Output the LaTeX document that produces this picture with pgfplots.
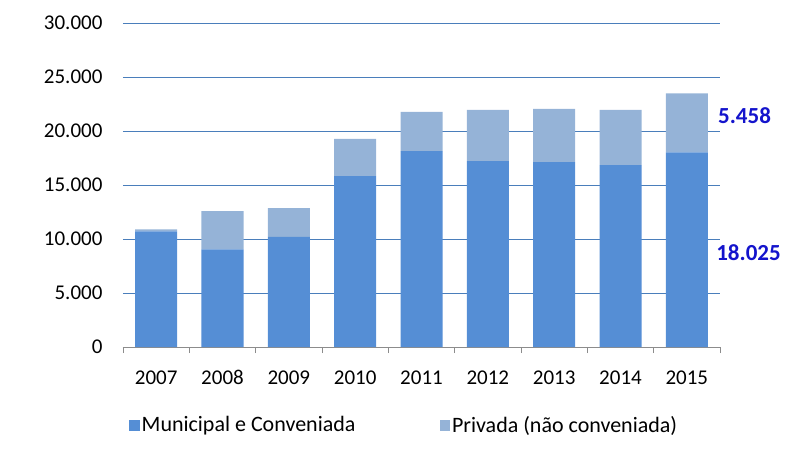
\documentclass[border=0pt]{standalone}
\usepackage{fontspec}
\setmainfont{Carlito}
\usepackage{pgfplots}
\pgfplotsset{compat=1.18}
\definecolor{muni}{HTML}{558ED5}
\definecolor{priv}{HTML}{95B3D7}
\definecolor{gridc}{HTML}{4A7EBB}
\definecolor{lbl}{HTML}{1414CC}
\begin{document}
\begin{tikzpicture}
\begin{axis}[
  at={(0,0)}, anchor=south west,
  scale only axis, width=597pt, height=324pt,
  ybar stacked, bar width=42pt,
  xmin=-0.5, xmax=8.5, ymin=0, ymax=30000,
  xtick={0,...,8},
  xticklabels={2007,2008,2009,2010,2011,2012,2013,2014,2015},
  minor xtick={-0.5,0.5,...,8.5},
  ytick={0,5000,...,30000},
  scaled y ticks=false,
  ymajorgrids, grid style={gridc, line width=0.75pt},
  axis x line*=bottom, axis y line*=left,
  y axis line style={draw=none},
  x axis line style={draw=gray!90, line width=0.8pt, -},
  tick align=outside,
  major tick length=0pt, minor tick length=6pt,
  minor tick style={draw=gray!90, line width=0.8pt},
  xtick pos=lower, ytick pos=left,
  /pgf/number format/.cd, 1000 sep={.}, assume math mode=true,
  /pgfplots/.cd,
  ticklabel style={font=\fontsize{21}{25}\selectfont, text=black},
  yticklabel style={xshift=-17pt},
  xticklabel style={anchor=base, yshift=-37pt},
  clip=false,
  legend style={at={(0.471,-0.241)}, anchor=center, draw=none, fill=none,
    font=\fontsize{22}{26}\selectfont, legend columns=2,
    /tikz/every even column/.append style={column sep=82pt}},
  legend image code/.code={\fill[#1] (0pt,-5.5pt) rectangle (10.5pt,5pt);},
]
\addplot[fill=muni, draw=none] coordinates {(0,10710) (1,9040) (2,10190) (3,15820) (4,18140) (5,17210) (6,17120) (7,16840) (8,18025)};
\addplot[fill=priv, draw=none] coordinates {(0,190) (1,3530) (2,2660) (3,3440) (4,3630) (5,4740) (6,4920) (7,5110) (8,5458)};
\legend{Municipal e Conveniada, Privada (não conveniada)}
\node[font=\fontsize{23}{27}\selectfont\bfseries, text=lbl] at (axis cs:8.87,21450) {5.458};
\node[font=\fontsize{23}{27}\selectfont\bfseries, text=lbl] at (axis cs:8.93,8730) {18.025};
\end{axis}
\path (-123pt,-103pt) rectangle (664pt,347pt);
\end{tikzpicture}
\end{document}
